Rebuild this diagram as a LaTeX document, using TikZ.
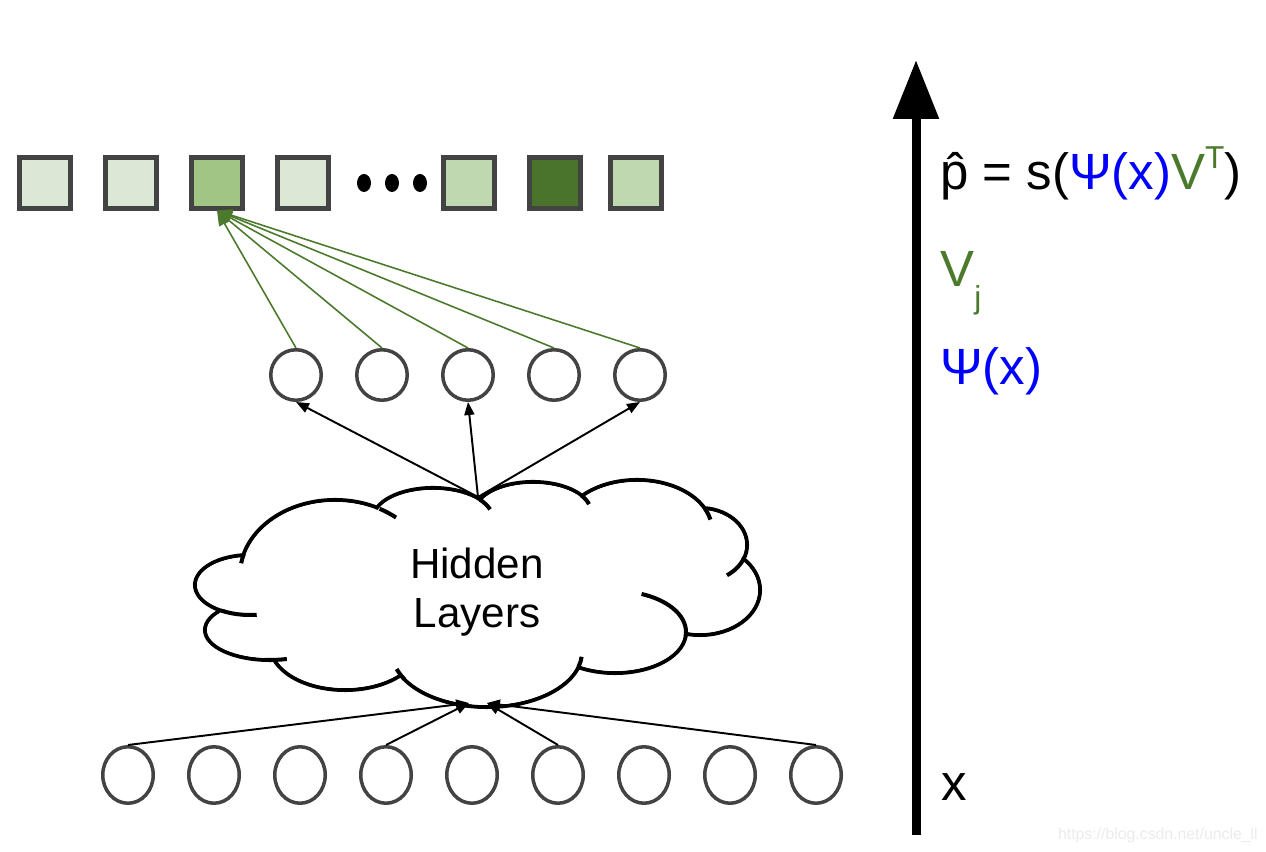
\documentclass[tikz,border=0pt]{standalone}
\usepackage{fontspec}
\setmainfont{Liberation Sans}
\usepackage{xcolor}
\usepackage{tikz}
\usetikzlibrary{shapes.geometric, arrows.meta, positioning, calc}

\definecolor{edgegray}{HTML}{434343}
\definecolor{paleg}{HTML}{DCE8D5}
\definecolor{midg}{HTML}{A1C585}
\definecolor{softg}{HTML}{BFD8AF}
\definecolor{darkg}{HTML}{4A742C}
\definecolor{vgreen}{HTML}{4B7A2D}
\definecolor{psiblue}{HTML}{0000FF}

\tikzstyle{logit} = [rectangle, minimum size=1.02cm, inner sep=0pt, draw=edgegray, line width=2.3pt]
\tikzstyle{unit} = [circle, minimum size=1.01cm, inner sep=0pt, draw=edgegray, line width=2pt]
\tikzstyle{input} = [ellipse, minimum width=1.01cm, minimum height=1.13cm, inner sep=0pt, draw=edgegray, line width=2pt]
\tikzstyle{puff} = [line width=2.3pt]
\tikzstyle{arrow} = [line width=1.1pt, -{Triangle[length=0.26cm, width=0.2cm]}]
\tikzstyle{greenarrow} = [vgreen, line width=0.9pt, -{Triangle[length=0.3cm, width=0.24cm]}]
\tikzstyle{eqn} = [anchor=base west, inner sep=0pt, font=\fontsize{29}{34}\selectfont]

\begin{document}
\begin{tikzpicture}[node distance=1.72cm]
\useasboundingbox (0,0) rectangle (25.32,17.04);

% output scores
\node (sq1) [logit, fill=paleg] at (0.9,13.38) {};
\node (sq2) [logit, fill=paleg, right of=sq1] {};
\node (sq3) [logit, fill=midg, right of=sq2] {};
\node (sq4) [logit, fill=paleg, right of=sq3] {};
\node (dots) [right of=sq4, xshift=0.06cm, inner sep=0pt] {};
\node (sq5) [logit, fill=softg, right of=dots, xshift=-0.18cm] {};
\node (sq6) [logit, fill=darkg, right of=sq5] {};
\node (sq7) [logit, fill=softg, right of=sq6, xshift=-0.1cm] {};

\fill (dots.center) ellipse [x radius=0.14cm, y radius=0.18cm];
\fill ([xshift=-0.56cm]dots.center) ellipse [x radius=0.14cm, y radius=0.18cm];
\fill ([xshift=0.56cm]dots.center) ellipse [x radius=0.14cm, y radius=0.18cm];

% embedding units
\node (h1) [unit] at (5.92,9.54) {};
\node (h2) [unit, right of=h1] {};
\node (h3) [unit, right of=h2] {};
\node (h4) [unit, right of=h3] {};
\node (h5) [unit, right of=h4] {};

% hidden part: puffs, then white inside, then the loose ends
\draw [puff] (5.00,5.34) ellipse [x radius=1.10, y radius=0.60]
  (6.70,5.54) ellipse [x radius=1.90, y radius=1.50]
  (8.66,6.66) ellipse [x radius=1.20, y radius=0.62]
  (10.66,6.80) ellipse [x radius=1.16, y radius=0.60]
  (12.74,6.44) ellipse [x radius=1.50, y radius=1.00]
  (14.00,6.14) ellipse [x radius=0.94, y radius=0.74]
  (14.00,5.24) ellipse [x radius=1.20, y radius=0.90]
  (12.30,4.40) ellipse [x radius=1.42, y radius=0.82]
  (9.74,4.00) ellipse [x radius=1.90, y radius=1.10]
  (6.90,4.14) ellipse [x radius=1.50, y radius=0.90]
  (5.40,4.44) ellipse [x radius=1.30, y radius=0.60];
\fill [white] (5.00,5.34) ellipse [x radius=1.06, y radius=0.56]
  (6.70,5.54) ellipse [x radius=1.86, y radius=1.46]
  (8.66,6.66) ellipse [x radius=1.16, y radius=0.58]
  (10.66,6.80) ellipse [x radius=1.12, y radius=0.56]
  (12.74,6.44) ellipse [x radius=1.46, y radius=0.96]
  (14.00,6.14) ellipse [x radius=0.90, y radius=0.70]
  (14.00,5.24) ellipse [x radius=1.16, y radius=0.86]
  (12.30,4.40) ellipse [x radius=1.38, y radius=0.78]
  (9.74,4.00) ellipse [x radius=1.86, y radius=1.06]
  (6.90,4.14) ellipse [x radius=1.46, y radius=0.86]
  (5.40,4.44) ellipse [x radius=1.26, y radius=0.56];
\fill [white] (5.00,5.34) -- (6.70,5.54) -- (8.66,6.66) -- (10.66,6.80) -- (12.74,6.44) -- (14.00,6.14)
  -- (14.00,5.24) -- (12.30,4.40) -- (9.74,4.00) -- (6.90,4.14) -- (5.40,4.44) -- cycle;

\draw [puff] ($(6.70,5.54)+(164:1.90 and 1.50)$) arc [start angle=164, end angle=171, x radius=1.90, y radius=1.50];
\draw [puff] ($(6.70,5.54)+(62:1.90 and 1.50)$) arc [start angle=62, end angle=50, x radius=1.90, y radius=1.50];
\draw [puff] ($(5.00,5.34)+(239:1.10 and 0.60)$) arc [start angle=239, end angle=277, x radius=1.10, y radius=0.60];
\draw [puff] ($(5.40,4.44)+(265:1.30 and 0.60)$) arc [start angle=265, end angle=285, x radius=1.30, y radius=0.60];
\draw [puff] ($(8.66,6.66)+(38:1.20 and 0.62)$) arc [start angle=38, end angle=18, x radius=1.20, y radius=0.62];
\draw [puff] ($(10.66,6.80)+(33:1.16 and 0.60)$) arc [start angle=33, end angle=15, x radius=1.16, y radius=0.60];
\draw [puff] ($(12.74,6.44)+(25:1.50 and 1.00)$) arc [start angle=25, end angle=12, x radius=1.50, y radius=1.00];
\draw [puff] ($(14.00,6.14)+(-20:0.94 and 0.74)$) arc [start angle=-20, end angle=-55, x radius=0.94, y radius=0.74];
\draw [puff] ($(12.30,4.40)+(-6:1.42 and 0.82)$) arc [start angle=-6, end angle=68, x radius=1.42, y radius=0.82];
\draw [puff] ($(9.74,4.00)+(210:1.90 and 1.10)$) arc [start angle=210, end angle=198, x radius=1.90, y radius=1.10];
\draw [puff] ($(9.74,4.00)+(-15:1.90 and 1.10)$) arc [start angle=-15, end angle=-5, x radius=1.90, y radius=1.10];

\node (hidden) [align=center, font=\fontsize{24}{28}\selectfont] at (9.54,5.2) {Hidden\\Layers};
\coordinate (hiddentop) at (9.56,7.1);
\coordinate (hiddenbl) at (9.38,2.98);
\coordinate (hiddenbr) at (9.74,2.98);

% inputs
\node (x1) [input] at (2.56,1.54) {};
\node (x2) [input, right of=x1] {};
\node (x3) [input, right of=x2] {};
\node (x4) [input, right of=x3] {};
\node (x5) [input, right of=x4] {};
\node (x6) [input, right of=x5] {};
\node (x7) [input, right of=x6] {};
\node (x8) [input, right of=x7] {};
\node (x9) [input, right of=x8] {};

\draw [arrow] (x1.north) -- (hiddenbl);
\draw [arrow] (x4.north) -- (hiddenbl);
\draw [arrow] (x6.north) -- (hiddenbr);
\draw [arrow] (x9.north) -- (hiddenbr);

\draw [arrow] (hiddentop) -- (h1.south);
\draw [arrow] (hiddentop) -- (h3.south);
\draw [arrow] (hiddentop) -- (h5.south);

\draw [greenarrow] (h1.north) -- (sq3.south);
\draw [greenarrow] (h2.north) -- (sq3.south);
\draw [greenarrow] (h3.north) -- (sq3.south);
\draw [greenarrow] (h4.north) -- (sq3.south);
\draw [greenarrow] (h5.north) -- (sq3.south);

% axis with labels
\coordinate (xbase) at (18.32,0.34);
\coordinate (ptop) at (18.32,15.84);
\draw [line width=0.18cm, -{Triangle[length=1.18cm, width=0.88cm]}] (xbase) -- (ptop);

\node (phat) [eqn] at (18.8,13.24) {\^{p} = s(\textcolor{psiblue}{Ψ(x)}\textcolor{vgreen}{V\raisebox{0.42em}{\fontsize{18}{18}\selectfont T}})};
\node (vj) [eqn, text=vgreen] at (18.8,11.3) {V\raisebox{-0.42em}{\fontsize{18}{18}\selectfont j}};
\node (psi) [eqn, text=psiblue] at (18.8,9.34) {Ψ(x)};
\node (xin) [eqn] at (18.82,1.02) {x};

\node (mark) [anchor=base east, inner sep=0pt, text=black!8, font=\fontsize{9}{9}\selectfont] at (25.16,0.24) {https://blog.csdn.net/uncle\_ll};

\end{tikzpicture}
\end{document}
